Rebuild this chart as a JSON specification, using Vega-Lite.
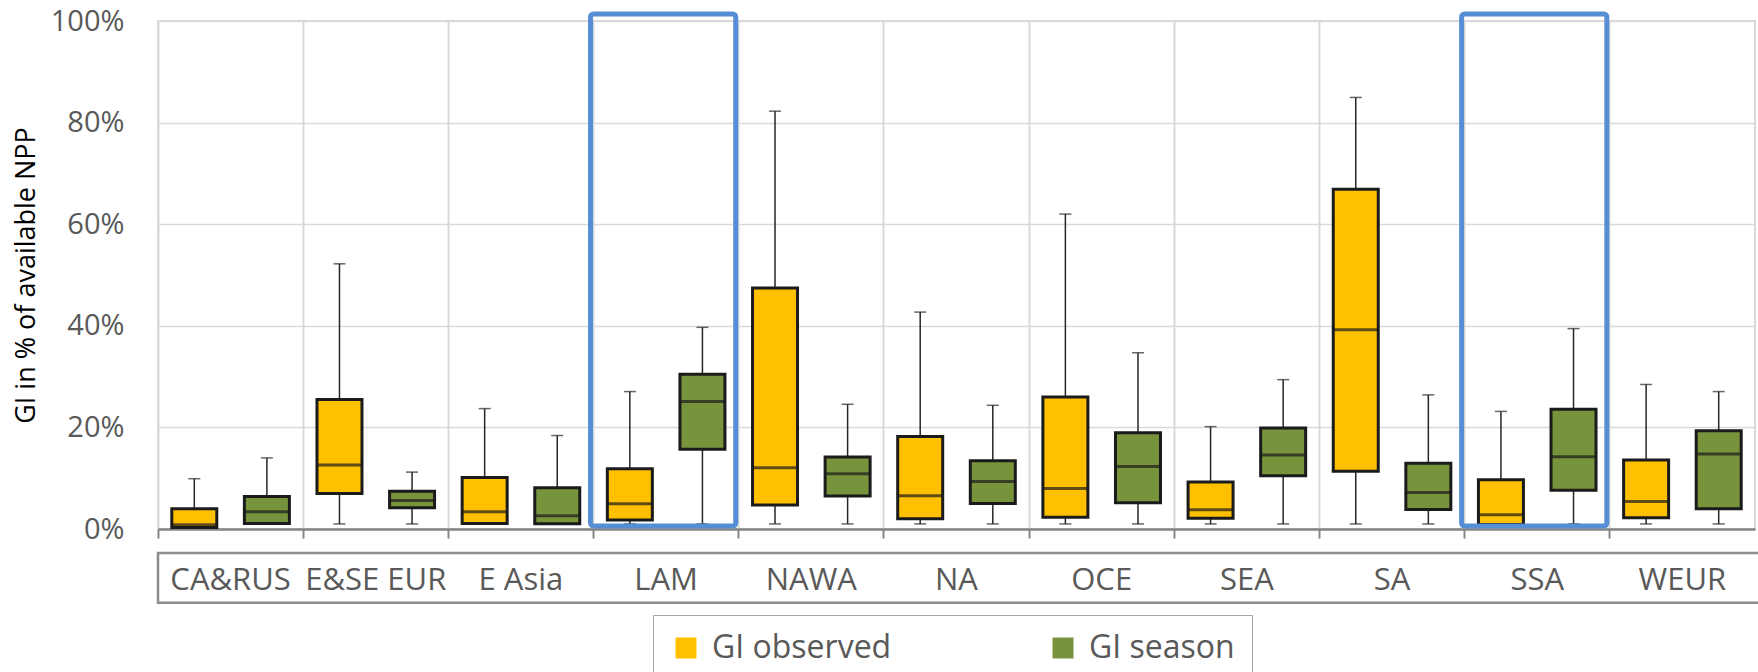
{
  "$schema": "https://vega.github.io/schema/vega-lite/v6.json",
  "width": 1597,
  "height": 508,
  "autosize": {"type": "none"},
  "padding": {"left": 158, "top": 21, "right": 3, "bottom": 143},
  "background": "white",
  "datasets": {
    "boxes": [
      {"region": "CA&RUS", "series": "GI observed", "min": 0.003, "q1": 0.003, "median": 0.0085, "q3": 0.040, "max": 0.099},
      {"region": "CA&RUS", "series": "GI season", "min": 0.010, "q1": 0.011, "median": 0.034, "q3": 0.064, "max": 0.140},
      {"region": "E&SE EUR", "series": "GI observed", "min": 0.010, "q1": 0.070, "median": 0.126, "q3": 0.255, "max": 0.522},
      {"region": "E&SE EUR", "series": "GI season", "min": 0.010, "q1": 0.042, "median": 0.056, "q3": 0.0745, "max": 0.112},
      {"region": "E Asia", "series": "GI observed", "min": 0.010, "q1": 0.011, "median": 0.034, "q3": 0.1015, "max": 0.237},
      {"region": "E Asia", "series": "GI season", "min": 0.010, "q1": 0.0105, "median": 0.026, "q3": 0.081, "max": 0.184},
      {"region": "LAM", "series": "GI observed", "min": 0.010, "q1": 0.0175, "median": 0.0495, "q3": 0.1185, "max": 0.2705},
      {"region": "LAM", "series": "GI season", "min": 0.010, "q1": 0.157, "median": 0.251, "q3": 0.3045, "max": 0.397},
      {"region": "NAWA", "series": "GI observed", "min": 0.010, "q1": 0.047, "median": 0.1205, "q3": 0.4745, "max": 0.8225},
      {"region": "NAWA", "series": "GI season", "min": 0.010, "q1": 0.065, "median": 0.109, "q3": 0.1415, "max": 0.2455},
      {"region": "NA", "series": "GI observed", "min": 0.010, "q1": 0.020, "median": 0.0655, "q3": 0.182, "max": 0.427},
      {"region": "NA", "series": "GI season", "min": 0.010, "q1": 0.050, "median": 0.0935, "q3": 0.1345, "max": 0.2435},
      {"region": "OCE", "series": "GI observed", "min": 0.010, "q1": 0.023, "median": 0.0795, "q3": 0.260, "max": 0.620},
      {"region": "OCE", "series": "GI season", "min": 0.010, "q1": 0.0515, "median": 0.123, "q3": 0.1895, "max": 0.347},
      {"region": "SEA", "series": "GI observed", "min": 0.010, "q1": 0.021, "median": 0.038, "q3": 0.0925, "max": 0.2015},
      {"region": "SEA", "series": "GI season", "min": 0.010, "q1": 0.105, "median": 0.1455, "q3": 0.199, "max": 0.294},
      {"region": "SA", "series": "GI observed", "min": 0.010, "q1": 0.1135, "median": 0.392, "q3": 0.669, "max": 0.8495},
      {"region": "SA", "series": "GI season", "min": 0.010, "q1": 0.0385, "median": 0.072, "q3": 0.1295, "max": 0.264},
      {"region": "SSA", "series": "GI observed", "min": 0.009, "q1": 0.009, "median": 0.028, "q3": 0.097, "max": 0.2315},
      {"region": "SSA", "series": "GI season", "min": 0.010, "q1": 0.0765, "median": 0.142, "q3": 0.2355, "max": 0.3945},
      {"region": "WEUR", "series": "GI observed", "min": 0.010, "q1": 0.022, "median": 0.054, "q3": 0.136, "max": 0.2845},
      {"region": "WEUR", "series": "GI season", "min": 0.010, "q1": 0.040, "median": 0.1475, "q3": 0.1935, "max": 0.2705}
    ],
    "highlight": [{"region": "LAM"}, {"region": "SSA"}],
    "frame": [{"what": "category labels"}]
  },
  "config": {
    "font": "Open Sans",
    "view": {"stroke": "#d9d9d9", "strokeWidth": 2},
    "axisX": {
      "bandPosition": 0,
      "domainColor": "#868686",
      "domainWidth": 2.5,
      "tickColor": "#868686",
      "tickWidth": 2,
      "tickSize": 9,
      "grid": true,
      "gridColor": "#d9d9d9",
      "gridWidth": 2,
      "labelFontSize": 31,
      "labelColor": "#595959",
      "labelPadding": 51,
      "labelBaseline": "alphabetic",
      "labelAngle": 0,
      "labelOverlap": false,
      "labelBound": false,
      "labelFlush": false
    },
    "axisY": {
      "domain": false,
      "ticks": false,
      "labelFontSize": 29,
      "labelColor": "#595959",
      "labelPadding": 34,
      "grid": true,
      "gridColor": "#d9d9d9",
      "gridWidth": 1.5,
      "titleFontSize": 27,
      "titleFontWeight": "normal",
      "titleColor": "#000000",
      "titlePadding": 10
    }
  },
  "layer": [
    {
      "data": {"name": "boxes"},
      "mark": {"type": "rule", "color": "#262626", "strokeWidth": 1.5},
      "encoding": {
        "x": {"field": "region", "type": "nominal", "sort": ["CA&RUS", "E&SE EUR", "E Asia", "LAM", "NAWA", "NA", "OCE", "SEA", "SA", "SSA", "WEUR"], "scale": {"paddingInner": 0, "paddingOuter": 0}, "title": null},
        "xOffset": {"field": "series", "type": "nominal", "sort": ["GI observed", "GI season"], "scale": {"paddingInner": 0, "paddingOuter": 0}},
        "y": {"field": "min", "type": "quantitative", "scale": {"domain": [0, 1], "nice": false}, "title": "GI in % of available NPP", "axis": {"format": ".0%", "values": [0, 0.2, 0.4, 0.6, 0.8, 1]}},
        "y2": {"field": "max"}
      }
    },
    {
      "data": {"name": "boxes"},
      "mark": {"type": "tick", "color": "#262626", "size": 12, "thickness": 1.5},
      "encoding": {
        "x": {"field": "region", "type": "nominal", "sort": ["CA&RUS", "E&SE EUR", "E Asia", "LAM", "NAWA", "NA", "OCE", "SEA", "SA", "SSA", "WEUR"], "title": null},
        "xOffset": {"field": "series", "type": "nominal", "sort": ["GI observed", "GI season"]},
        "y": {"field": "max", "type": "quantitative", "scale": {"domain": [0, 1], "nice": false}, "title": "GI in % of available NPP"}
      }
    },
    {
      "data": {"name": "boxes"},
      "mark": {"type": "tick", "color": "#262626", "size": 12, "thickness": 1.5},
      "encoding": {
        "x": {"field": "region", "type": "nominal", "sort": ["CA&RUS", "E&SE EUR", "E Asia", "LAM", "NAWA", "NA", "OCE", "SEA", "SA", "SSA", "WEUR"], "title": null},
        "xOffset": {"field": "series", "type": "nominal", "sort": ["GI observed", "GI season"]},
        "y": {"field": "min", "type": "quantitative", "scale": {"domain": [0, 1], "nice": false}, "title": "GI in % of available NPP"}
      }
    },
    {
      "data": {"name": "boxes"},
      "mark": {"type": "bar", "size": 45, "stroke": "#1b1b1b", "strokeWidth": 3, "opacity": 1},
      "encoding": {
        "x": {"field": "region", "type": "nominal", "sort": ["CA&RUS", "E&SE EUR", "E Asia", "LAM", "NAWA", "NA", "OCE", "SEA", "SA", "SSA", "WEUR"], "title": null},
        "xOffset": {"field": "series", "type": "nominal", "sort": ["GI observed", "GI season"]},
        "y": {"field": "q1", "type": "quantitative", "scale": {"domain": [0, 1], "nice": false}, "title": "GI in % of available NPP"},
        "y2": {"field": "q3"},
        "color": {
          "field": "series",
          "type": "nominal",
          "scale": {"domain": ["GI observed", "GI season"], "range": ["#FFC000", "#77933C"]},
          "legend": {
            "title": null,
            "orient": "none",
            "legendX": 495,
            "legendY": 594,
            "direction": "horizontal",
            "symbolType": "square",
            "symbolSize": 440,
            "symbolStrokeWidth": 0,
            "labelFontSize": 32,
            "labelColor": "#595959",
            "labelOffset": 10,
            "labelLimit": 0,
            "columnPadding": 155,
            "padding": 17,
            "strokeColor": "#a6a6a6"
          }
        }
      }
    },
    {
      "data": {"name": "boxes"},
      "mark": {"type": "tick", "color": "#1b1b1b", "size": 45, "thickness": 3},
      "encoding": {
        "x": {"field": "region", "type": "nominal", "sort": ["CA&RUS", "E&SE EUR", "E Asia", "LAM", "NAWA", "NA", "OCE", "SEA", "SA", "SSA", "WEUR"], "title": null},
        "xOffset": {"field": "series", "type": "nominal", "sort": ["GI observed", "GI season"]},
        "y": {"field": "median", "type": "quantitative", "scale": {"domain": [0, 1], "nice": false}, "title": "GI in % of available NPP"}
      }
    },
    {
      "data": {"name": "highlight"},
      "mark": {"type": "rect", "filled": false, "stroke": "#558ED5", "strokeWidth": 5, "cornerRadius": 3, "yOffset": -3, "y2Offset": -7, "xOffset": -3, "x2Offset": 1},
      "encoding": {
        "x": {"field": "region", "type": "nominal", "sort": ["CA&RUS", "E&SE EUR", "E Asia", "LAM", "NAWA", "NA", "OCE", "SEA", "SA", "SSA", "WEUR"], "title": null},
        "y": {"datum": 0, "type": "quantitative", "scale": {"domain": [0, 1], "nice": false}, "title": "GI in % of available NPP"},
        "y2": {"datum": 1}
      }
    },
    {
      "data": {"name": "frame"},
      "mark": {"type": "rect", "filled": false, "stroke": "#8c8c8c", "strokeWidth": 2.5, "xOffset": 5, "x2Offset": -12},
      "encoding": {
        "y": {"datum": -0.047, "type": "quantitative", "scale": {"domain": [0, 1], "nice": false}, "title": "GI in % of available NPP"},
        "y2": {"datum": -0.145}
      }
    }
  ]
}
